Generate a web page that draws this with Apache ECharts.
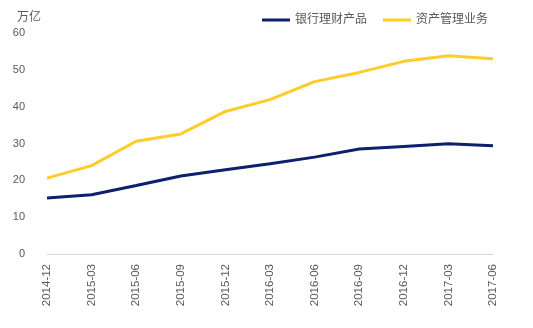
<!DOCTYPE html>
<html>
<head>
<meta charset="utf-8">
<script src="https://cdn.jsdelivr.net/npm/echarts@6/dist/echarts.min.js"></script>
<style>html,body{margin:0;padding:0;background:#fff;}#c{width:533px;height:328px;}</style>
</head>
<body>
<div id="c"></div>
<script>
var categories = ['2014-12','2015-03','2015-06','2015-09','2015-12','2016-03','2016-06','2016-09','2016-12','2017-03','2017-06'];
var bankWealth = [15.2, 16.1, 18.6, 21.2, 22.9, 24.5, 26.3, 28.5, 29.2, 29.9, 29.4];
var assetMgmt = [20.6, 24.0, 30.6, 32.6, 38.7, 41.9, 46.8, 49.3, 52.3, 53.8, 53.0];
var seriesNames = ['银行理财产品', '资产管理业务'];
var unitLabel = '万亿';

var FONT = '"Liberation Sans", "Noto Sans CJK SC", sans-serif';
var chart = echarts.init(document.getElementById('c'), null, {renderer: 'canvas'});
chart.setOption({
  animation: false,
  backgroundColor: '#ffffff',
  title: {
    text: unitLabel, left: 12, top: 7,
    textStyle: {fontSize: 12, fontWeight: 'normal', color: '#595959', fontFamily: FONT}
  },
  legend: {
    left: 262, top: 14, padding: 0, itemWidth: 28, itemHeight: 3, itemGap: 16, icon: 'rect',
    textStyle: {fontSize: 12, color: '#595959', fontFamily: FONT},
    data: seriesNames
  },
  grid: {left: 47, right: 40, top: 33, bottom: 74, containLabel: false},
  xAxis: {
    type: 'category', data: categories, boundaryGap: false,
    axisLine: {lineStyle: {color: '#D9D9D9', width: 1}},
    axisTick: {show: false},
    axisLabel: {rotate: 90, fontSize: 11.5, color: '#595959', margin: 10, fontFamily: FONT}
  },
  yAxis: {
    type: 'value', min: 0, max: 60, interval: 10,
    axisLine: {show: false}, axisTick: {show: false}, splitLine: {show: false},
    axisLabel: {fontSize: 11, color: '#595959', margin: 22, fontFamily: FONT}
  },
  series: [
    {name: seriesNames[0], type: 'line', data: bankWealth, symbol: 'none',
     lineStyle: {color: '#0E1F6E', width: 3}, itemStyle: {color: '#0E1F6E'}},
    {name: seriesNames[1], type: 'line', data: assetMgmt, symbol: 'none',
     lineStyle: {color: '#FFCC2A', width: 3}, itemStyle: {color: '#FFCC2A'}}
  ]
});
</script>
</body>
</html>
